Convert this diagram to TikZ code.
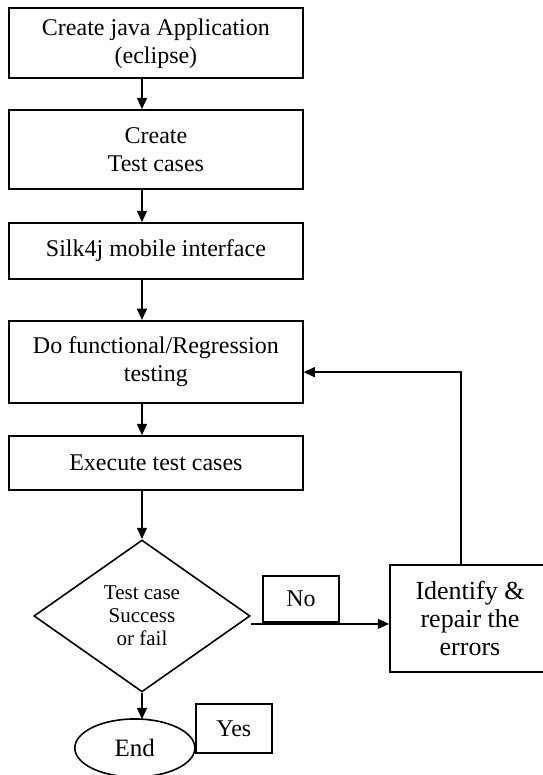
\documentclass[tikz,border=0pt]{standalone}
\usepackage{fontspec}
\setmainfont{Liberation Serif}
\usetikzlibrary{arrows.meta, shapes.geometric, positioning, calc}

\begin{document}
\begin{tikzpicture}[
        box/.style={rectangle,draw,thick,align=center,minimum width=5.16cm,
                    font=\fontsize{12}{14}\selectfont},
        dec/.style={diamond,draw,thick,align=center,inner sep=0pt,
                    minimum width=3.8cm,minimum height=2.67cm,
                    font=\fontsize{10.5}{11.5}\selectfont},
        term/.style={ellipse,draw,thick,minimum width=2.11cm,minimum height=1.02cm,
                     font=\fontsize{12.5}{13}\selectfont},
        lbl/.style={rectangle,draw,thick,minimum width=1.34cm,
                    font=\fontsize{12}{13}\selectfont},
        arr/.style={-{Triangle[length=2mm,width=1.7mm]},line width=1.1pt}
      ]
        \useasboundingbox (0,0) rectangle (9.54,13.62);
        \node[box,minimum height=1.23cm] (b1) at (2.74,12.86) {Create java Application\\(eclipse)};
        \node[box,minimum height=1.39cm] (b2) at (2.74,10.99) {Create\\Test cases};
        \node[box,minimum height=0.98cm] (b3) at (2.74,9.21) {Silk4j mobile interface};
        \node[box,minimum height=1.44cm] (b4) at (2.74,7.26) {Do functional/Regression\\testing};
        \node[box,minimum height=0.95cm] (b5) at (2.74,5.48) {Execute test cases};
        \node[dec] (dm) at (2.495,2.795) {Test case\\Success\\or fail};
        \node[term] (end) at (2.37,0.475) {End};
        \node[lbl,minimum height=0.86cm] (yes) at (4.11,0.82) {Yes};
        \node[lbl,minimum height=0.81cm] (no) at (5.29,3.09) {No};
        \node[box,minimum width=2.81cm,minimum height=1.88cm,
              font=\fontsize{13}{14}\selectfont] (fix) at (8.26,2.75) {Identify \&\\repair the\\errors};
        \draw[arr] (b1.south -| dm) -- (b2.north -| dm);
        \draw[arr] (b2.south -| dm) -- (b3.north -| dm);
        \draw[arr] (b3.south -| dm) -- (b4.north -| dm);
        \draw[arr] (b4.south -| dm) -- (b5.north -| dm);
        \draw[arr] (b5.south -| dm) -- (dm.north);
        \draw[arr] (dm.south) -- ([yshift=-0.02cm]dm.south |- end.north);
        \draw[arr] ([yshift=-0.14cm]dm.east) -- ([yshift=-0.14cm]dm.east -| fix.west);
        \draw[arr] ([xshift=-0.16cm]fix.north) |- ([yshift=-0.18cm]b4.east);
      \end{tikzpicture}
\end{document}
